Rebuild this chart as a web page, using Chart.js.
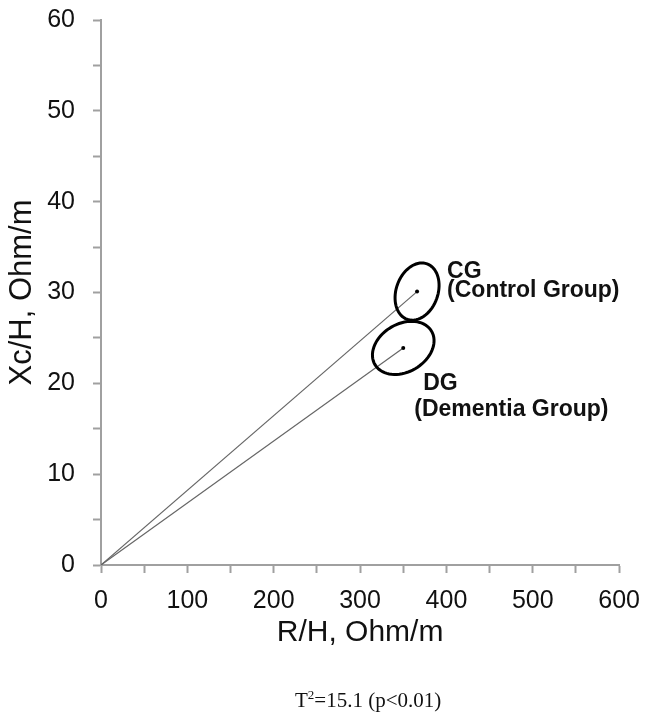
<!DOCTYPE html>
<html lang="en">
<head>
  <meta charset="UTF-8">
  <title>R/H vs Xc/H</title>
  <script src="https://cdn.jsdelivr.net/npm/chart.js"></script>
  <style>
    body { margin: 0; background: #fff; }
    .wrap { position: relative; width: 653px; height: 717px; }
    #caption {
      position: absolute; left: 295px; top: 690px;
      font-family: "Liberation Serif", "Times New Roman", serif; font-size: 21px; line-height: 1; color: #111;
    }
    #caption sup { font-size: 13px; line-height: 0; }
  </style>
</head>
<body>

<div class="wrap">
  <canvas id="vectorChart" width="653" height="717"></canvas>
  <div id="caption">T<sup>2</sup>=15.1 (p&lt;0.01)</div>
</div>

<script>
  // group means (R/H and Xc/H, Ohm/m)
  const groups = ['CG', 'DG'];
  const groupNames = ['(Control Group)', '(Dementia Group)'];
  const meanR = [366, 350];
  const meanXc = [30.1, 23.9];
  // confidence ellipse half-axes, as [dR, dXc] vectors
  const ellipseAxis1 = [[22.7, -0.79], [32.9, 1.82]];
  const ellipseAxis2 = [[-11.6, -3.05], [13.8, -2.29]];

  const fontFamily = '"Liberation Sans", Arial, sans-serif';

  const ellipsePlugin = {
    id: 'ellipses',
    afterDatasetsDraw(chart) {
      const ctx = chart.ctx, xs = chart.scales.x, ys = chart.scales.y;
      ctx.save();
      groups.forEach((g, i) => {
        // ellipse outline
        ctx.beginPath();
        for (let k = 0; k <= 72; k++) {
          const t = k / 72 * Math.PI * 2;
          const r = meanR[i] + ellipseAxis1[i][0] * Math.cos(t) + ellipseAxis2[i][0] * Math.sin(t);
          const v = meanXc[i] + ellipseAxis1[i][1] * Math.cos(t) + ellipseAxis2[i][1] * Math.sin(t);
          const px = xs.getPixelForValue(r), py = ys.getPixelForValue(v);
          k ? ctx.lineTo(px, py) : ctx.moveTo(px, py);
        }
        ctx.closePath();
        ctx.lineWidth = 3;
        ctx.strokeStyle = '#000';
        ctx.stroke();

        // labels
        const px = xs.getPixelForValue(meanR[i]), py = ys.getPixelForValue(meanXc[i]);
        ctx.fillStyle = '#111';
        ctx.font = 'bold 23px ' + fontFamily;
        ctx.textAlign = 'left';
        ctx.textBaseline = 'middle';
        if (i === 0) {
          ctx.fillText(g, px + 30, py - 20);
          ctx.fillText(groupNames[i], px + 30, py - 1);
        } else {
          ctx.fillText(g, px + 20, py + 36);
          ctx.fillText(groupNames[i], px + 11, py + 62);
        }
      });
      ctx.restore();
    }
  };

  const axisGray = '#a0a0a0';

  new Chart(document.getElementById('vectorChart').getContext('2d'), {
    type: 'scatter',
    data: {
      datasets: groups.map((g, i) => ({
        label: g,
        type: 'line',
        data: [{ x: 0, y: 0 }, { x: meanR[i], y: meanXc[i] }],
        borderColor: '#666',
        borderWidth: 1.2,
        pointRadius: [0, 2],
        pointBackgroundColor: '#000',
        pointBorderWidth: 0,
        fill: false
      }))
    },
    options: {
      responsive: false,
      animation: false,
      layout: { padding: { top: 20, right: 31, bottom: 0, left: 0 } },
      plugins: { legend: { display: false }, tooltip: { enabled: false } },
      scales: {
        x: {
          type: 'linear', min: 0, max: 600,
          ticks: {
            stepSize: 50, autoSkip: false, maxRotation: 0, padding: 13,
            color: '#111', font: { size: 25, family: fontFamily },
            callback: v => v % 100 === 0 ? v : ''
          },
          grid: { drawOnChartArea: false, tickLength: 8, tickColor: axisGray, tickWidth: 2 },
          border: { color: axisGray, width: 2 },
          title: {
            display: true, text: 'R/H, Ohm/m', color: '#111',
            font: { size: 30, family: fontFamily }, padding: { top: 0, bottom: 66 }
          },
          afterFit: s => { s.height = 152; }
        },
        y: {
          type: 'linear', min: 0, max: 60,
          ticks: {
            stepSize: 5, autoSkip: false, padding: 18,
            color: '#111', font: { size: 25, family: fontFamily },
            callback: v => v % 10 === 0 ? v : ''
          },
          grid: { drawOnChartArea: false, tickLength: 8, tickColor: axisGray, tickWidth: 2 },
          border: { color: axisGray, width: 2 },
          title: {
            display: true, text: 'Xc/H, Ohm/m', color: '#111',
            font: { size: 31, family: fontFamily }, padding: { top: 4, bottom: 0 }
          },
          afterFit: s => { s.width = 101; s.paddingTop = 0; s.paddingBottom = 0; }
        }
      }
    },
    plugins: [ellipsePlugin]
  });
</script>
</body>
</html>
